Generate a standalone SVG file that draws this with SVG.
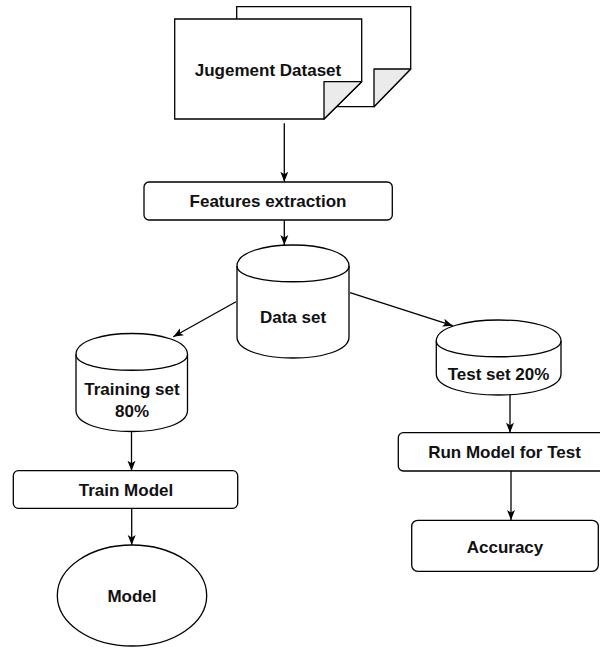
<svg xmlns="http://www.w3.org/2000/svg" width="600" height="648" viewBox="0 0 600 648">
<style>
.s{fill:#fff;stroke:#000;stroke-width:1.3}
.fold{fill:#ebebeb;stroke:#000;stroke-width:1.3;stroke-linejoin:round}
.t{font-family:"Liberation Sans",Arial,sans-serif;font-weight:bold;font-size:17px;fill:#111;text-anchor:middle}
.c{fill:none;stroke:#000;stroke-width:1.3}
</style>
<defs>
<marker id="arr" viewBox="0 0 10 10" refX="10" refY="5" markerWidth="10" markerHeight="10" markerUnits="userSpaceOnUse" orient="auto">
<path d="M0,1 L10,5 L0,9 L2.5,5 Z" fill="#000"/>
</marker>
</defs>
<rect width="600" height="648" fill="#fff"/>
<g id="connectors">
<line class="c" x1="284.3" y1="123.3" x2="284.3" y2="181.7" marker-end="url(#arr)"/>
<line class="c" x1="284.3" y1="220" x2="284.3" y2="245" marker-end="url(#arr)"/>
<line class="c" x1="236" y1="301.7" x2="173.3" y2="336.7" marker-end="url(#arr)"/>
<line class="c" x1="350" y1="292.7" x2="452.7" y2="325.7" marker-end="url(#arr)"/>
<line class="c" x1="131.5" y1="431.7" x2="131.5" y2="470.7" marker-end="url(#arr)"/>
<line class="c" x1="131.7" y1="508.3" x2="131.7" y2="545" marker-end="url(#arr)"/>
<line class="c" x1="510" y1="395" x2="510" y2="432.7" marker-end="url(#arr)"/>
<line class="c" x1="511" y1="471" x2="511" y2="520" marker-end="url(#arr)"/>
</g>
<g id="jugement-dataset">
<path class="s" d="M236.7,6.7 L410.7,6.7 L410.7,69 L374,106.7 L236.7,106.7 Z"/>
<path class="fold" d="M374,69 L410.7,69 L374,106.7 Z"/>
<path class="s" d="M174.7,19 L361.7,19 L361.7,81.7 L324,119 L174.7,119 Z"/>
<path class="fold" d="M324,81.7 L361.7,81.7 L324,119 Z"/>
<text class="t" x="268" y="76">Jugement Dataset</text>
</g>
<g id="features-extraction">
<rect class="s" x="144" y="182" width="248.3" height="38" rx="5"/>
<text class="t" x="268" y="207">Features extraction</text>
</g>
<g id="data-set">
<path class="s" d="M237,266 C237,238 349,238 349,266 L349,337 C349,365 237,365 237,337 Z"/>
<path class="c" d="M237,266 C237,287 349,287 349,266"/>
<text class="t" x="293" y="323">Data set</text>
</g>
<g id="training-set">
<path class="s" d="M76,354.5 C76,326.5 187.5,326.5 187.5,354.5 L187.5,410.5 C187.5,438.5 76,438.5 76,410.5 Z"/>
<path class="c" d="M76,354.5 C76,375.5 187.5,375.5 187.5,354.5"/>
<text class="t" x="132" y="395">Training set</text>
<text class="t" x="132" y="417">80%</text>
</g>
<g id="test-set">
<path class="s" d="M436.3,341 C436.3,313 561,313 561,341 L561,374 C561,402 436.3,402 436.3,374 Z"/>
<path class="c" d="M436.3,341 C436.3,362 561,362 561,341"/>
<text class="t" x="498.5" y="380">Test set 20%</text>
</g>
<g id="train-model">
<rect class="s" x="13.3" y="470.7" width="224.4" height="37.6" rx="5"/>
<text class="t" x="126" y="496">Train Model</text>
</g>
<g id="model">
<ellipse class="s" cx="132" cy="595.5" rx="74.7" ry="50.5"/>
<text class="t" x="132" y="601.5">Model</text>
</g>
<g id="run-model">
<rect class="s" x="398.3" y="432.7" width="212.7" height="38.3" rx="5"/>
<text class="t" x="504.5" y="458">Run Model for Test</text>
</g>
<g id="accuracy">
<rect class="s" x="411.7" y="520.3" width="186.6" height="51" rx="6"/>
<text class="t" x="505" y="552.5">Accuracy</text>
</g>
</svg>
